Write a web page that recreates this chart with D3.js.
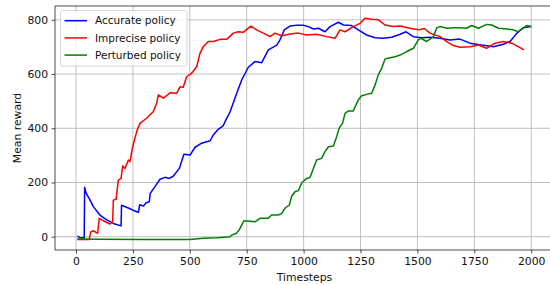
<!DOCTYPE html>
<html lang="en">
<head>
<meta charset="UTF-8">
<title>Mean reward</title>
<script src="https://cdn.jsdelivr.net/npm/d3@7/dist/d3.min.js"></script>
<style>
  body { margin: 0; padding: 0; overflow: hidden; background: #fff; }
  svg text { font-family: "DejaVu Sans", sans-serif; fill: #111; }
  .grid line { stroke: #b0b0b0; stroke-width: 0.8; }
  .series { fill: none; stroke-width: 1.5; stroke-linejoin: round; }
</style>
</head>
<body>
<div id="chart"></div>
<script>
// [timestep, mean reward]
const accurate = [
  [6,2],[20,-4],[36,-4],[38,182],[45,160],[62,135],[76,111],[105,80],[135,62],[164,49],[198,40],
  [200,116],[230,106],[255,96],[274,90],[280,118],[296,113],[308,125],[322,129],[326,160],[347,185],
  [369,212],[391,219],[410,215],[428,224],[454,252],[474,304],[501,301],[523,330],[552,345],[589,354],
  [603,375],[625,396],[647,410],[658,430],[677,461],[706,529],[728,578],[757,625],[786,646],[816,642],
  [845,689],[882,707],[896,726],[915,763],[940,777],[970,780],[999,780],[1021,775],[1043,766],[1065,769],
  [1094,756],[1116,775],[1153,791],[1175,781],[1211,779],[1240,763],[1277,744],[1314,734],[1350,732],
  [1387,736],[1424,747],[1450,756],[1482,738],[1519,734],[1555,736],[1599,732],[1643,726],[1687,729],
  [1731,714],[1782,707],[1834,701],[1877,710],[1907,720],[1936,750],[1965,771],[2000,775]
];
const imprecise = [
  [6,-10],[58,-10],[65,18],[76,22],[95,12],[102,68],[120,59],[149,47],[161,55],[164,135],[176,138],
  [186,209],[198,215],[205,261],[215,252],[230,283],[237,277],[249,332],[255,351],[269,394],[281,418],
  [310,437],[340,462],[354,492],[362,523],[384,511],[413,531],[442,529],[457,553],[471,551],[486,590],
  [508,603],[530,627],[545,677],[559,701],[581,720],[603,720],[633,728],[662,728],[691,751],[713,756],
  [735,754],[768,777],[794,763],[823,751],[852,738],[874,751],[904,741],[940,748],[977,751],[1013,744],
  [1057,747],[1101,738],[1138,732],[1160,763],[1182,756],[1218,775],[1248,787],[1270,806],[1299,802],
  [1328,800],[1358,781],[1394,775],[1424,777],[1467,769],[1504,763],[1530,768],[1555,751],[1599,738],
  [1629,720],[1658,705],[1687,699],[1731,701],[1768,707],[1804,695],[1841,714],[1877,720],[1914,714],
  [1943,701],[1968,689]
];
const perturbed = [
  [6,-8],[100,-9],[300,-10],[500,-10],[560,-6],[620,-4],[677,0],[684,6],[703,12],[717,25],[728,43],
  [738,59],[786,55],[808,68],[845,68],[859,80],[889,80],[904,86],[918,105],[937,117],[948,150],[962,166],
  [977,170],[992,199],[1013,215],[1028,218],[1043,252],[1057,283],[1079,289],[1094,314],[1109,332],
  [1131,335],[1145,369],[1157,402],[1171,418],[1182,455],[1197,464],[1218,464],[1240,504],[1255,520],
  [1277,525],[1299,529],[1314,560],[1328,597],[1343,621],[1358,656],[1380,660],[1402,664],[1424,670],
  [1453,683],[1482,695],[1504,726],[1514,732],[1541,720],[1570,738],[1585,771],[1599,775],[1629,769],
  [1658,771],[1687,771],[1716,769],[1738,779],[1768,769],[1804,783],[1827,781],[1856,769],[1892,766],
  [1921,763],[1943,756],[1958,766],[1980,779],[2000,775]
];
const seriesNames = ["Accurate policy", "Imprecise policy", "Perturbed policy"];
const seriesColors = ["#0000ff", "#ff0000", "#008000"];
const xTicks = [0, 250, 500, 750, 1000, 1250, 1500, 1750, 2000];
const yTicks = [0, 200, 400, 600, 800];

const width = 550, height = 285;
const plotLeft = 55, plotRight = 554, plotTop = 6, plotBottom = 250;

const svg = d3.select("#chart").append("svg")
  .attr("width", width)
  .attr("height", height);

const x = d3.scaleLinear().domain([-92.3, 2100]).range([plotLeft, plotRight]);
const y = d3.scaleLinear().domain([-49, 851]).range([plotBottom, plotTop]);

// grid
const grid = svg.append("g").attr("class", "grid");
grid.selectAll(".gx").data(xTicks).enter().append("line")
  .attr("x1", d => x(d)).attr("x2", d => x(d))
  .attr("y1", plotTop).attr("y2", plotBottom);
grid.selectAll(".gy").data(yTicks).enter().append("line")
  .attr("x1", plotLeft).attr("x2", plotRight)
  .attr("y1", d => y(d)).attr("y2", d => y(d));

// lines
const line = d3.line().x(d => x(d[0])).y(d => y(d[1]));
const allSeries = [accurate, imprecise, perturbed];
svg.append("g").selectAll("path").data(allSeries).enter().append("path")
  .attr("class", "series")
  .attr("stroke", (d, i) => seriesColors[i])
  .attr("d", line);

// frame
svg.append("rect")
  .attr("x", plotLeft).attr("y", plotTop)
  .attr("width", plotRight - plotLeft).attr("height", plotBottom - plotTop)
  .attr("fill", "none").attr("stroke", "#222").attr("stroke-width", 0.8);

// axes
const xAxis = svg.append("g")
  .attr("transform", `translate(0,${plotBottom})`)
  .call(d3.axisBottom(x).tickValues(xTicks).tickFormat(d3.format("d"))
    .tickSize(3.5).tickPadding(3.5).tickSizeOuter(0));
const yAxis = svg.append("g")
  .attr("transform", `translate(${plotLeft},0)`)
  .call(d3.axisLeft(y).tickValues(yTicks).tickFormat(d3.format("d"))
    .tickSize(3.5).tickPadding(3.5).tickSizeOuter(0));
[xAxis, yAxis].forEach(a => {
  a.select(".domain").remove();
  a.selectAll(".tick line").attr("stroke", "#222").attr("stroke-width", 0.8);
  a.selectAll(".tick text").style("font-size", "10.8px").style("font-family", "DejaVu Sans").attr("fill", "#111");
});

svg.append("text")
  .attr("x", (plotLeft + 550) / 2 + 2).attr("y", 281)
  .attr("text-anchor", "middle")
  .style("font-size", "10.8px")
  .text("Timesteps");

svg.append("text")
  .attr("transform", `translate(21,${(plotTop + plotBottom) / 2}) rotate(-90)`)
  .attr("text-anchor", "middle")
  .style("font-size", "10.8px")
  .text("Mean reward");

// legend
const legend = svg.append("g");
legend.append("rect")
  .attr("x", 60.5).attr("y", 10.5).attr("width", 126.5).attr("height", 55.5)
  .attr("rx", 2)
  .attr("fill", "#fff").attr("fill-opacity", 0.8)
  .attr("stroke", "#cccccc").attr("stroke-width", 0.8);
const entry = legend.selectAll(".entry").data(seriesNames).enter().append("g")
  .attr("transform", (d, i) => `translate(0,${20.7 + i * 17.2})`);
entry.append("line")
  .attr("x1", 64.5).attr("x2", 87)
  .attr("stroke", (d, i) => seriesColors[i]).attr("stroke-width", 1.5);
entry.append("text")
  .attr("x", 95).attr("dy", "0.35em")
  .style("font-size", "10.5px")
  .text(d => d);
</script>
</body>
</html>
